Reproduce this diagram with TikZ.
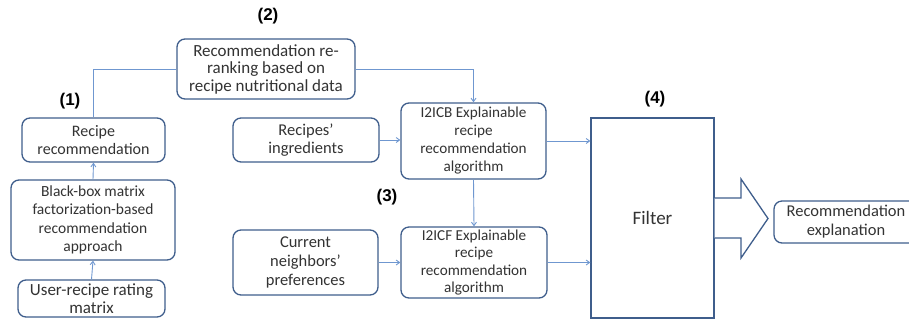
\documentclass[tikz,border=0pt]{standalone}
\usepackage{fontspec}
\setmainfont{Carlito}
\newfontfamily\lblfont{Liberation Sans}
\usetikzlibrary{arrows.meta}
\definecolor{boxc}{HTML}{3F5E8C}
\definecolor{linec}{HTML}{6F97D0}
\definecolor{txtc}{HTML}{333333}
\tikzset{
  box/.style={draw=boxc, line width=1.3pt, rounded corners=8pt, fill=white, align=center,
    inner sep=0pt, text=txtc, font=\fontsize{16}{18}\selectfont},
  sharpbox/.style={draw=boxc, line width=1.3pt, fill=white, align=center, inner sep=0pt,
    text=txtc, font=\fontsize{19}{21}\selectfont},
  conn/.style={draw=linec, line width=0.9pt},
  arr/.style={conn, -{Straight Barb[length=3.5pt,width=5pt]}},
  lbl/.style={font=\lblfont\bfseries\fontsize{17}{19}\selectfont, text=black, inner sep=0pt},
  bigarrow/.style={draw=boxc, line width=1.3pt, fill=white, line join=miter}
}
\begin{document}
\begin{tikzpicture}[x=1pt,y=-1pt]
\useasboundingbox (0,0) rectangle (909,325);
\begin{scope}
\clip (0,0) rectangle (909,325);
% nodes
\node[box, minimum width=178pt, minimum height=60pt, font=\fontsize{17}{17.5}\selectfont] (rr) at (266,69) {Recommendation re-\\ranking based on\\recipe nutritional data};
\node[box, minimum width=143pt, minimum height=44pt] (rec) at (93.5,140) {Recipe\\recommendation};
\node[box, minimum width=164pt, minimum height=80pt, font=\fontsize{15.5}{18.3}\selectfont] (bb) at (93,220) {Black-box matrix\\factorization-based\\recommendation\\approach};
\node[box, minimum width=147pt, minimum height=37pt, font=\fontsize{17}{18}\selectfont] (ur) at (91.5,298.5) {User-recipe rating\\matrix};
\node[box, minimum width=146pt, minimum height=44pt, font=\fontsize{16.5}{18}\selectfont] (ing) at (306,140) {Recipes'\\ingredients};
\node[box, minimum width=145pt, minimum height=65pt, font=\fontsize{16.5}{19}\selectfont] (cur) at (305.5,262.5) {Current\\neighbors'\\preferences};
\node[box, minimum width=145pt, minimum height=76pt, font=\fontsize{15.2}{18}\selectfont] (icb) at (473.5,141) {I2ICB Explainable\\recipe\\recommendation\\algorithm};
\node[box, minimum width=146pt, minimum height=71pt, font=\fontsize{15.2}{17.5}\selectfont] (icf) at (474,262.5) {I2ICF Explainable\\recipe\\recommendation\\algorithm};
\node[sharpbox, minimum width=123pt, minimum height=200pt] (filt) at (652.5,218) {Filter};
\node[box, minimum width=144pt, minimum height=42pt, font=\fontsize{16.5}{19}\selectfont] (exp) at (846,222) {Recommendation\\explanation};
% big arrow
\coordinate (ba0) at (filt.east |- 0,198);
\draw[bigarrow] (ba0) -- (741,198) -- (741,179) -- (768,218.5) -- (741,258) -- (741,238) -- (filt.east |- 0,238);
% labels
\node[lbl] (l2) at (268,16) {(2)};
\node[lbl] (l1) at (70,101) {(1)};
\node[lbl] (l3) at (387,197) {(3)};
\node[lbl] (l4) at (655,99) {(4)};
% connectors
\draw[conn] (rec.north) |- (rr.west);
\draw[arr] (rr.east) -| (icb.north);
\draw[arr] (bb.north) -- (rec.south);
\draw[arr] (ur.north) -- (bb.south);
\draw[arr] (ing.east) -- (ing.east -| icb.west);
\draw[arr] (cur.east) -- (cur.east -| icf.west);
\draw[arr] (icb.south) -- (icf.north);
\draw[arr] (icb.east) -- (icb.east -| filt.west);
\draw[arr] (icf.east) -- (icf.east -| filt.west);
\end{scope}
\end{tikzpicture}
\end{document}
